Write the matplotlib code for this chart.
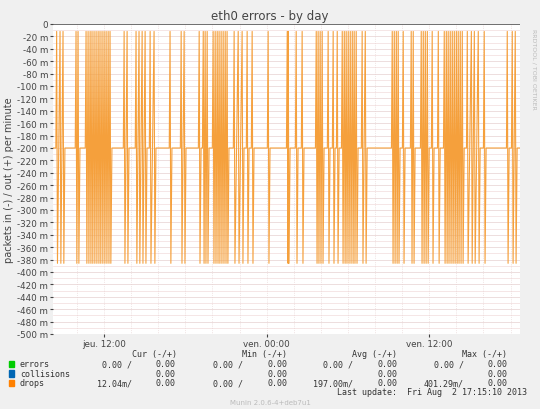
import numpy as np
import matplotlib.pyplot as plt
from matplotlib.patches import Rectangle

# spike times, hours since jeu 00:00
spike_hours = [8.5, 8.75, 8.97, 9.93, 10.08, 10.67, 10.82, 10.97, 11.11, 11.26, 11.41, 11.56,
               11.70, 11.85, 12.0, 12.15, 12.30, 12.44, 13.48, 13.70, 14.36, 14.58, 14.81,
               15.03, 15.40, 15.69, 16.87, 17.69, 17.91, 19.02, 19.32, 19.46, 19.61, 20.05,
               20.20, 20.35, 20.49, 20.64, 20.79, 20.94, 21.08, 21.60, 21.90, 22.19, 22.56,
               22.93, 24.11, 25.52, 25.59, 26.18, 26.62, 27.66, 27.80, 27.95, 28.10, 28.54,
               28.91, 29.21, 29.58, 29.73, 29.87, 30.02, 30.17, 30.32, 30.46, 30.61, 31.05,
               31.28, 33.27, 33.42, 33.57, 33.71, 34.08, 34.67, 34.82, 35.41, 35.56, 35.71,
               35.86, 36.22, 36.67, 37.11, 37.26, 37.40, 37.55, 37.70, 37.85, 38.00, 38.14,
               38.29, 38.44, 38.81, 39.11, 39.33, 39.62, 40.06, 41.76, 42.13, 42.35]
spike_top = -12
spike_bottom = -386
baseline = -200
t_start, t_end = 8.23, 42.7

xs, ys = [t_start], [baseline]
for i, t in enumerate(spike_hours):
    if i == 0 or t - spike_hours[i - 1] > 0.3:
        xs.append(t - 0.06); ys.append(baseline)
    xs += [t, t + 0.06]
    ys += [spike_top, spike_bottom]
    if i == len(spike_hours) - 1 or spike_hours[i + 1] - t > 0.3:
        xs.append(t + 0.14); ys.append(baseline)
xs.append(t_end); ys.append(baseline)

bg = "#f0f0f0"
fig = plt.figure(figsize=(5.4, 4.1), dpi=100, facecolor=bg)
ax = fig.add_axes([53 / 540, 75 / 410, 467 / 540, 310 / 410])
ax.set_facecolor("white")
ax.set_xlim(t_start, t_end)
ax.set_ylim(-500, 0)

for y in np.arange(-500, 0, 10):
    ax.axhline(y, color="#f2dcdc" if y % 20 else "#e6d0d0", lw=0.5, zorder=0)
for x in np.arange(10, 43, 2):
    ax.axvline(x, color="#e6d0d0", lw=0.5, ls=":", zorder=0)
ax.axhline(0, color="#555555", lw=1.2)

ax.plot(xs, ys, color="#f5a03c", lw=0.8)

yt = np.arange(-500, 1, 20)
ax.set_yticks(yt)
ax.set_yticklabels(["0" if v == 0 else f"{v} m" for v in yt])
ax.set_xticks([12, 24, 36])
ax.set_xticklabels(["jeu. 12:00", "ven. 00:00", "ven. 12:00"])
ax.tick_params(labelsize=6.3, colors="#444444", length=2, pad=1.5)
for s in ax.spines.values():
    s.set_visible(False)
ax.set_ylabel("packets in (-) / out (+) per minute", fontsize=7, color="#444444", labelpad=2)

fig.text(0.5, 0.975, "eth0 errors - by day", ha="center", va="top", fontsize=8.5, color="#444444")
fig.text(0.985, 0.93, "RRDTOOL / TOBI OETIKER", rotation=270, ha="left", va="top",
         fontsize=4.5, color="#bbbbbb")

mono = dict(family="DejaVu Sans Mono", fontsize=6, color="#333333")
for x, h in zip([155, 265, 375, 485], ["Cur (-/+)", "Min (-/+)", "Avg (-/+)", "Max (-/+)"]):
    fig.text(x / 540, 1 - 355 / 410, h, ha="center", va="center", **mono)
legend_names = ["errors", "collisions", "drops"]
legend_colors = ["#00cc00", "#0066b3", "#ff8000"]
legend_rows = [["0.00 /", "0.00", "0.00 /", "0.00", "0.00 /", "0.00", "0.00 /", "0.00"],
               ["", "0.00", "", "0.00", "", "0.00", "", "0.00"],
               ["12.04m/", "0.00", "0.00 /", "0.00", "197.00m/", "0.00", "401.29m/", "0.00"]]
col_x = [132, 176, 243, 287, 353, 397, 464, 508]
for r, (name, c, vals) in enumerate(zip(legend_names, legend_colors, legend_rows)):
    yy = 1 - (365 + r * 9.5) / 410
    fig.patches.append(Rectangle((9 / 540, yy - 0.008), 5 / 540, 6.5 / 410, color=c,
                                 transform=fig.transFigure, figure=fig))
    fig.text(20 / 540, yy, name, va="center", **mono)
    for x, v in zip(col_x, vals):
        fig.text(x / 540, yy, v, ha="right", va="center", **mono)
fig.text(527 / 540, 1 - 393 / 410, "Last update:  Fri Aug  2 17:15:10 2013", ha="right",
         va="center", **mono)
fig.text(0.5, 1 - 403 / 410, "Munin 2.0.6-4+deb7u1", ha="center", va="center",
         fontsize=5, color="#bbbbbb")

fig.savefig("out.png", dpi=100, facecolor=bg)
